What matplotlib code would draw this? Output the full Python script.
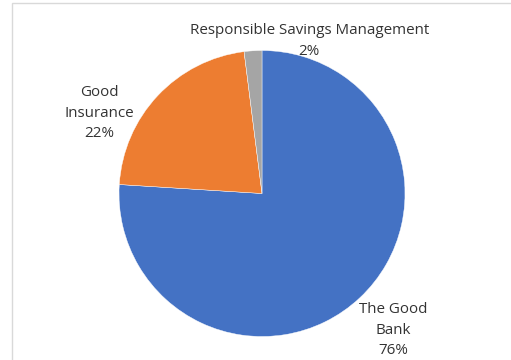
import matplotlib
matplotlib.use("Agg")
import matplotlib.pyplot as plt
from matplotlib.patches import Rectangle

labels = ["The Good\nBank", "Good\nInsurance", "Responsible Savings Management"]
values = [76, 22, 2]
colors = ["#4472C4", "#ED7D31", "#A5A5A5"]
label_pos = [(0.915, -0.955), (-1.14, 0.56), (0.33, 1.065)]

plt.rcParams['font.family'] = ['Open Sans', 'DejaVu Sans']

W, H = 511, 360
fig = plt.figure(figsize=(W / 100, H / 100), dpi=100)
fig.patches.append(Rectangle((12 / W, -0.1), 1.2, (H - 3) / H + 0.1,
                             transform=fig.transFigure, fill=False,
                             edgecolor="#D9D9D9", linewidth=1.0))

cx, cy, r = 262, 193.5, 143
ax = fig.add_axes([(cx - r) / W, (H - cy - r) / H, 2 * r / W, 2 * r / H])
ax.pie(values, colors=colors, startangle=90, counterclock=False, radius=1,
       wedgeprops=dict(edgecolor="white", linewidth=0.3))
ax.set_xlim(-1, 1)
ax.set_ylim(-1, 1)
ax.set_aspect("equal")
ax.axis("off")

total = sum(values)
for lab, v, (x, y) in zip(labels, values, label_pos):
    ax.text(x, y, f"{lab}\n{round(100 * v / total)}%", ha="center", va="center",
            fontsize=10.9, color="#333333", linespacing=1.5, clip_on=False)

fig.savefig("out.png", dpi=100)
